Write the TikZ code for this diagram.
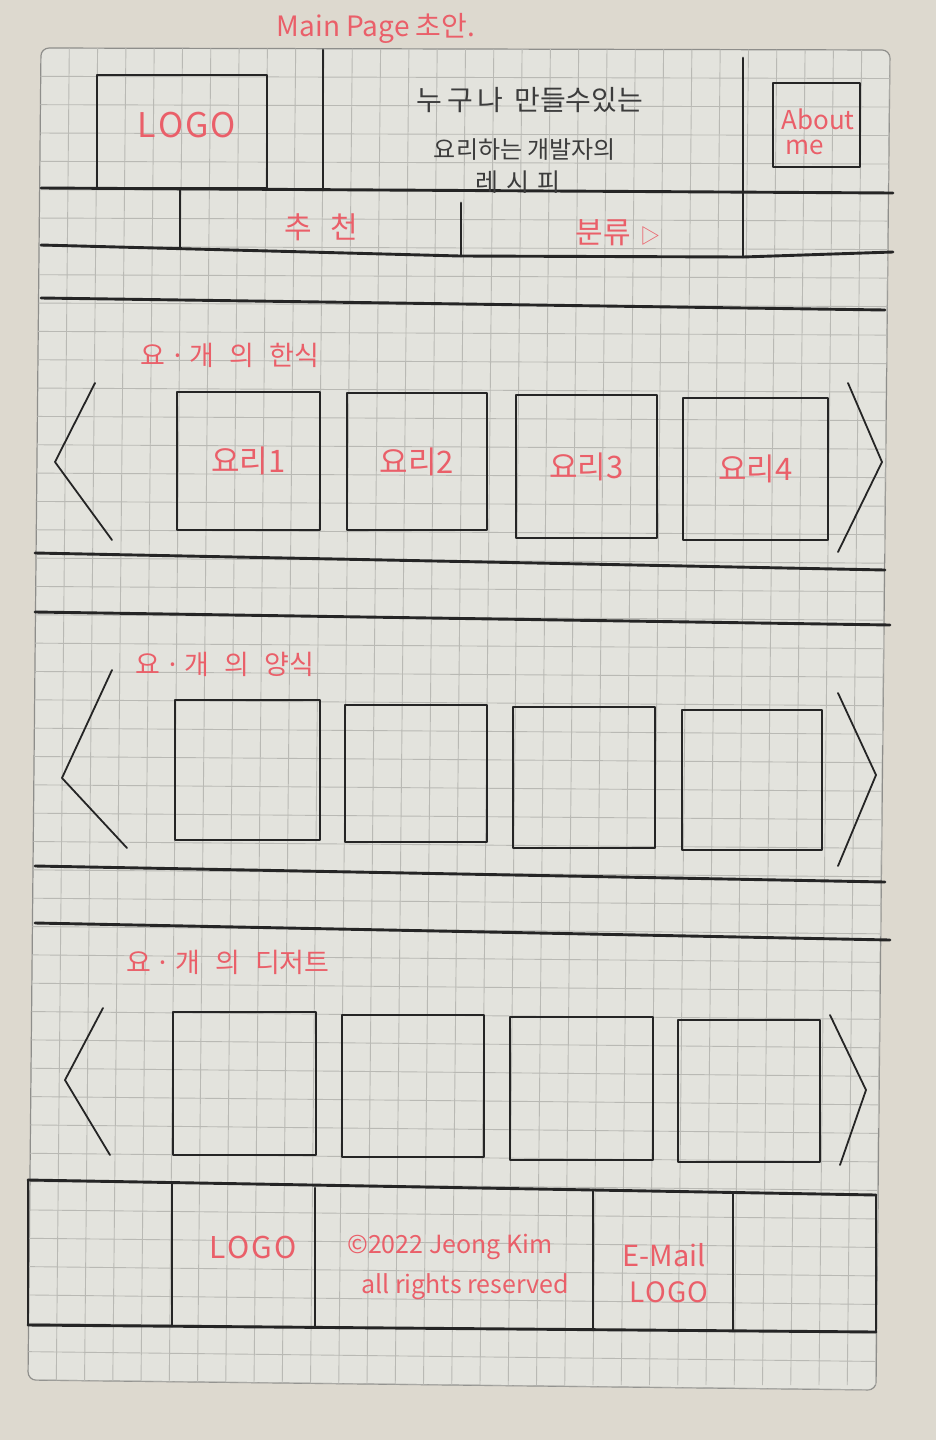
\documentclass[tikz,border=0pt]{standalone}
\usepackage{fontspec}
\setmainfont{Noto Sans CJK KR}
\definecolor{bgc}{HTML}{DDD9CF}
\definecolor{paperc}{HTML}{E3E3DD}
\definecolor{gridc}{HTML}{B9B9B4}
\definecolor{edgec}{HTML}{8E8E8B}
\definecolor{pencilc}{HTML}{252525}
\definecolor{penred}{HTML}{EA5F69}
\definecolor{inkc}{HTML}{3C3C3C}
\tikzset{
  pencil/.style={draw=pencilc, line width=2.9pt, line cap=round, line join=round},
  chev/.style={draw=pencilc, line width=1.8pt, line cap=round, line join=round},
  recipebox/.style={pencil, inner sep=0pt, text=penred, font=\fontsize{31}{34}\selectfont},
  redlbl/.style={text=penred, inner sep=0pt},
  inklbl/.style={text=inkc, inner sep=0pt},
}
\begin{document}
\begin{tikzpicture}[x=1pt,y=-1pt]
\useasboundingbox (0,0) rectangle (936,1440);
\fill[bgc] (0,0) rectangle (936,1440);
% paper
\path[fill=paperc, draw=edgec, line width=1.2pt, rounded corners=8pt]
  (41,48) -- (890,50) -- (876,1390) -- (28,1380) -- cycle;
\begin{scope}
  \clip[rounded corners=8pt] (41,48) -- (890,50) -- (876,1390) -- (28,1380) -- cycle;
  \foreach \k in {1,...,30} {
    \draw[gridc, line width=0.9pt] ({41+\k*28.3},48) -- ({28+\k*28.25},1385);
  }
  \foreach \j in {1,...,47} {
    \draw[gridc, line width=0.9pt] ({41-\j*0.277},{48+\j*28.34}) -- ({890-\j*0.3},{50+\j*28.51});
  }
\end{scope}

% title
\node[redlbl, font=\fontsize{28}{32}\selectfont] (title) at (376,28) {Main Page 초안.};

% header
\draw[pencil] (323,50) -- (323,190);
\draw[pencil] (743,58) -- (743,257);
\draw[pencil] (41,188) -- (893,193);
\draw[pencil] (180,190) -- (180,247);
\draw[pencil] (461,203) -- (461,256);
\draw[pencil] (41,245) -- (460,256) -- (743,257) -- (893,252);
\draw[pencil] (41,298) -- (885,310);

\node[pencil, minimum width=170pt, minimum height=113pt, inner sep=0pt] (logo) at (182,131.5) {};
\node[redlbl, font=\fontsize{34}{38}\selectfont] (logotxt) at (187,125) {L\kern2ptO\kern2ptG\kern2ptO};
\node[pencil, minimum width=87pt, minimum height=84pt, inner sep=0pt] (about) at (816.5,125) {};
\node[redlbl, font=\fontsize{26}{30}\selectfont] (about1) at (818,119) {About};
\node[redlbl, font=\fontsize{26}{30}\selectfont] (about2) at (805,147) {me};

\node[inklbl, font=\fontsize{28}{32}\selectfont] (h1) at (530,100) {누\,구\,나\, 만들수있는};
\node[inklbl, font=\fontsize{24}{28}\selectfont] (h2) at (525,150) {요리하는 개발자의};
\node[inklbl, font=\fontsize{25}{28}\selectfont] (h3) at (518,182) {레\,\,시\,\,피};

\node[redlbl, font=\fontsize{30}{34}\selectfont] (nav1) at (321,227) {추\hspace{18pt}천};
\node[redlbl, font=\fontsize{30}{34}\selectfont] (nav2) at (618,233) {분류\hspace{10pt}\fontsize{20}{22}\selectfont▷};

% section 1
\node[redlbl, font=\fontsize{27}{30}\selectfont] (s1) at (230,355) {요\,·\,개\,\, 의\,\, 한식};
\draw[chev] (95,383) -- (55,462) -- (112,540);
\draw[chev] (848,383) -- (882,462) -- (838,552);
\node[recipebox, minimum width=143pt, minimum height=138pt] (b11) at (248.5,461) {요리1};
\node[recipebox, minimum width=140pt, minimum height=137pt] (b12) at (417,461.5) {요리2};
\node[recipebox, minimum width=141pt, minimum height=143pt] (b13) at (586.5,466.5) {요리3};
\node[recipebox, minimum width=145pt, minimum height=142pt] (b14) at (755.5,469) {요리4};
\draw[pencil] (35,553) -- (885,570);
\draw[pencil] (35,612) -- (890,625);

% section 2
\node[redlbl, font=\fontsize{27}{30}\selectfont] (s2) at (225,664) {요\,·\,개\,\, 의\,\, 양식};
\draw[chev] (112,670) -- (62,778) -- (127,848);
\draw[chev] (838,693) -- (876,775) -- (838,866);
\node[recipebox, minimum width=145pt, minimum height=140pt] (b21) at (247.5,770) {};
\node[recipebox, minimum width=142pt, minimum height=137pt] (b22) at (416,773.5) {};
\node[recipebox, minimum width=142pt, minimum height=141pt] (b23) at (584,777.5) {};
\node[recipebox, minimum width=140pt, minimum height=140pt] (b24) at (752,780) {};
\draw[pencil] (35,866) -- (885,882);
\draw[pencil] (35,923) -- (890,940);

% section 3
\node[redlbl, font=\fontsize{27}{30}\selectfont] (s3) at (228,962) {요\,·\,개\,\, 의\,\, 디저트};
\draw[chev] (103,1008) -- (65,1080) -- (110,1155);
\draw[chev] (830,1015) -- (866,1090) -- (840,1165);
\node[recipebox, minimum width=143pt, minimum height=143pt] (b31) at (244.5,1083.5) {};
\node[recipebox, minimum width=142pt, minimum height=142pt] (b32) at (413,1086) {};
\node[recipebox, minimum width=143pt, minimum height=143pt] (b33) at (581.5,1088.5) {};
\node[recipebox, minimum width=142pt, minimum height=142pt] (b34) at (749,1091) {};

% footer
\draw[pencil] (28,1180) -- (876,1195);
\draw[pencil] (28,1325) -- (876,1332);
\draw[pencil] (28,1180) -- (28,1325);
\draw[pencil] (172,1184) -- (172,1326);
\draw[pencil] (315,1188) -- (315,1327);
\draw[pencil] (593,1190) -- (593,1330);
\draw[pencil] (733,1193) -- (733,1331);
\draw[pencil] (876,1195) -- (876,1332);
\node[redlbl, font=\fontsize{30}{34}\selectfont] (flogo) at (253,1247) {L\kern2ptO\kern2ptG\kern2ptO};
\node[redlbl, font=\fontsize{25}{28}\selectfont] (copy) at (450,1247) {©2022 Jeong Kim};
\node[redlbl, font=\fontsize{25}{28}\selectfont] (rights) at (465,1287) {all rights reserved};
\node[redlbl, font=\fontsize{29}{32}\selectfont] (mail) at (664,1255) {E-Mail};
\node[redlbl, font=\fontsize{28}{32}\selectfont] (mlogo) at (669,1292) {L\kern1ptO\kern1ptG\kern1ptO};
\end{tikzpicture}
\end{document}
